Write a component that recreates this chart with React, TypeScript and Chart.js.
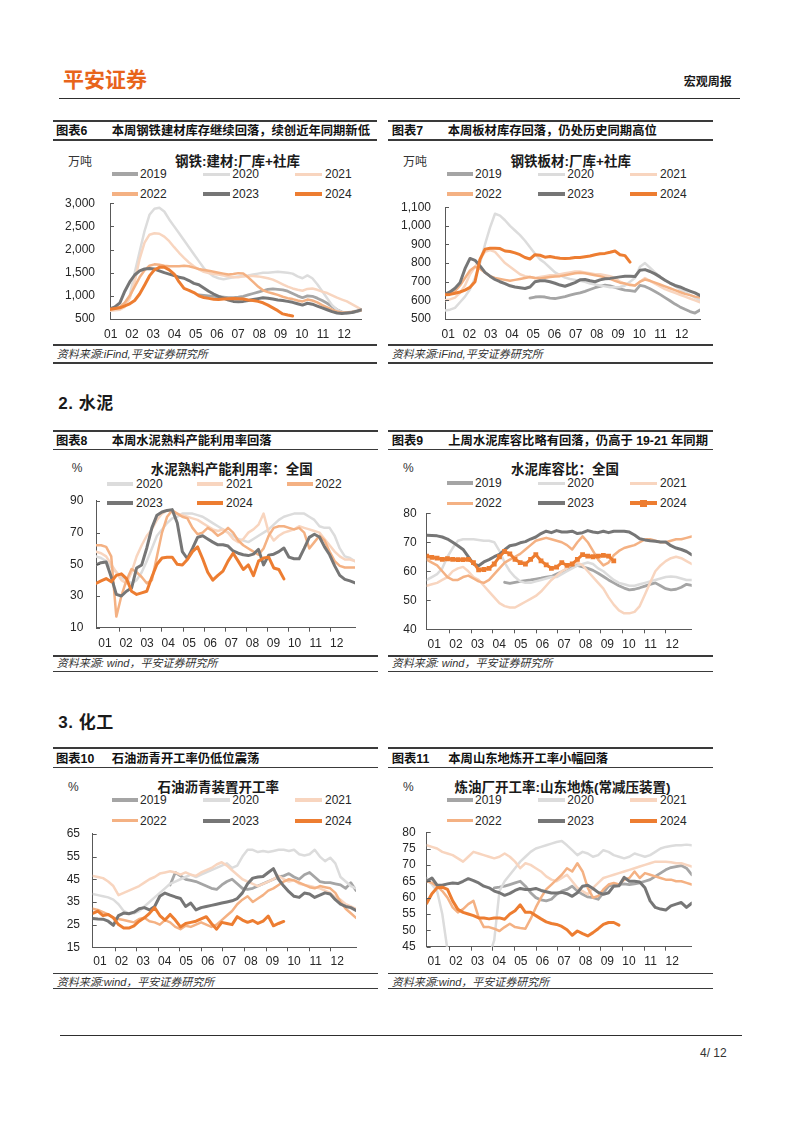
import React, { useEffect, useRef } from 'react';
import { Chart, registerables } from 'chart.js';

Chart.register(...registerables);

const N = null;
const monthLabels = ['01', '02', '03', '04', '05', '06', '07', '08', '09', '10', '11', '12'];

// ===== 图表6 钢铁:建材:厂库+社库 (万吨), weekly =====
const rebarYTicks = [500, 1000, 1500, 2000, 2500, 3000];
const rebar2019 = [N, N, N, N, N, N, N, N, N, N,
  N, N, N, N, N, N, N, N, 1020, 1010,
  1000, 990, 980, 970, 960, 960, 970, 990, 1020, 1050,
  1080, 1110, 1140, 1150, 1140, 1130, 1100, 1050, 1000, 960,
  1000, 990, 950, 900, 840, 770, 700, 650, 630, 640,
  660, 690];
const rebar2020 = [700, 720, 750, 850, 1000, 1500, 1950, 2400, 2750, 2880,
  2900, 2820, 2650, 2500, 2350, 2200, 2050, 1900, 1750, 1600,
  1500, 1420, 1380, 1360, 1380, 1400, 1420, 1430, 1440, 1460,
  1480, 1500, 1500, 1510, 1520, 1510, 1500, 1480, 1420, 1380,
  1440, 1380, 1250, 1100, 950, 800, 700, 650, 640, 660,
  680, 700];
const rebar2021 = [680, 690, 700, 760, 950, 1300, 1800, 2150, 2320, 2350,
  2340, 2280, 2180, 2050, 1930, 1820, 1720, 1640, 1570, 1520,
  1490, 1470, 1460, 1440, 1420, 1400, 1400, 1420, 1430, 1430,
  1420, 1400, 1380, 1350, 1300, 1250, 1200, 1160, 1130, 1110,
  1150, 1160, 1130, 1090, 1060, 1010, 960, 920, 880, 820,
  760, 700];
const rebar2022 = [700, 720, 760, 850, 1000, 1200, 1400, 1550, 1650, 1680,
  1670, 1650, 1640, 1640, 1640, 1650, 1640, 1610, 1580, 1560,
  1540, 1520, 1500, 1480, 1460, 1470, 1490, 1480, 1400, 1300,
  1200, 1120, 1080, 1050, 1020, 980, 950, 930, 900, 880,
  920, 900, 860, 800, 750, 700, 660, 640, 640, 650,
  670, 690];
const rebar2023 = [720, 760, 850, 1100, 1300, 1450, 1540, 1580, 1590, 1580,
  1540, 1500, 1470, 1440, 1400, 1380, 1330, 1270, 1240, 1170,
  1100, 1040, 990, 950, 910, 880, 870, 880, 900, 920,
  940, 960, 950, 930, 910, 900, 880, 860, 830, 800,
  840, 820, 780, 740, 700, 660, 630, 620, 630, 640,
  670, 700];
const rebar2024 = [709, 725, 742, 785, 827, 900, 1040, 1230, 1430, 1560,
  1615, 1620, 1560, 1470, 1300, 1160, 1120, 1070, 1000, 965,
  945, 925, 920, 930, 939, 940, 938, 930, 910, 900,
  880, 850, 800, 740, 680, 610, 585, 565];

// ===== 图表7 钢铁板材:厂库+社库 (万吨) =====
const plateYTicks = [500, 600, 700, 800, 900, 1000, 1100];
const plate2019 = [N, N, N, N, N, N, N, N, N, N,
  N, N, N, N, N, N, N, 612, 618, 620,
  618, 612, 610, 615, 620, 628, 635, 640, 648, 658,
  668, 675, 682, 678, 670, 662, 655, 652, 648, 680,
  675, 662, 648, 632, 615, 598, 580, 565, 552, 540,
  532, 548];
const plate2020 = [545, 550, 560, 590, 620, 660, 720, 800, 900, 990,
  1065, 1055, 1030, 1000, 975, 950, 920, 885, 850, 820,
  800, 775, 750, 735, 722, 715, 710, 705, 700, 690,
  685, 680, 675, 670, 670, 672, 680, 700, 720, 780,
  800, 775, 750, 728, 708, 692, 676, 660, 645, 630,
  615, 600];
const plate2021 = [600, 605, 615, 640, 680, 740, 780, 820, 860, 870,
  860, 830, 800, 780, 760, 740, 730, 725, 720, 725,
  730, 735, 735, 740, 745, 750, 755, 755, 750, 745,
  740, 740, 735, 730, 720, 700, 690, 685, 680, 700,
  720, 705, 690, 675, 660, 650, 640, 630, 620, 610,
  600, 590];
const plate2022 = [630, 635, 650, 680, 720, 760, 780, 770, 750, 730,
  720, 715, 710, 705, 710, 715, 720, 725, 720, 718,
  722, 725, 728, 730, 735, 740, 745, 748, 745, 740,
  735, 730, 722, 715, 705, 695, 690, 682, 680, 700,
  712, 705, 695, 685, 675, 665, 655, 645, 635, 628,
  620, 615];
const plate2023 = [634, 645, 665, 695, 770, 825, 815, 785, 750, 730,
  712, 700, 690, 678, 672, 668, 664, 672, 700, 705,
  705, 700, 692, 682, 676, 685, 695, 710, 712, 705,
  700, 710, 716, 718, 722, 726, 730, 729, 728, 762,
  765, 755, 742, 726, 708, 693, 680, 672, 660, 650,
  640, 626];
const plate2024 = [630, 632, 638, 645, 655, 670, 700, 820, 875, 880,
  880, 878, 865, 862, 855, 845, 830, 822, 845, 842,
  832, 835, 830, 826, 825, 826, 830, 830, 834, 838,
  845, 850, 852, 858, 865, 845, 840, 805];

// ===== 图表8 水泥熟料产能利用率：全国 (%) =====
const clinkerYTicks = [10, 30, 50, 70, 90];
const clinker2020 = [55, 54, 52, 48, 45, 42, 40, 38, 40, 45,
  52, 60, 68, 72, 76, 79, 80, 82, 82, 82,
  81, 80, 78, 76, 74, 72, 70, 68, 66, 65,
  64, 66, 68, 70, 72, 75, 78, 80, 81, 82,
  82, 82, 80, 78, 74, 73, 73, 68, 60, 55,
  54, 52];
const clinker2021 = [58, 57, 55, 50, 45, 40, 38, 45, 55, 62,
  68, 72, 78, 82, 84, 83, 82, 81, 80, 79,
  78, 76, 74, 72, 71, 72, 70, 66, 64, 66,
  70, 72, 75, 82, 70, 65, 68, 70, 71, 72,
  74, 73, 72, 71, 70, 66, 62, 58, 55, 53,
  53, 52];
const clinker2022 = [62, 62, 61, 55, 17, 30, 40, 47, 45, 42,
  38, 40, 55, 70, 80, 84, 82, 80, 79, 73,
  69, 70, 73, 71, 68, 70, 73, 70, 65, 62,
  60, 58, 56, 60, 68, 73, 74, 74, 73, 72,
  73, 70, 60, 64, 68, 65, 58, 52, 49, 48,
  48, 48];
const clinker2023 = [49.6, 51, 51.5, 42, 31, 30, 33, 35, 47.7, 49.6,
  60.3, 73, 81, 83, 84, 84.5, 76, 58, 53.5, 60,
  67, 68, 66, 64, 62.3, 62.3, 61.5, 58.4, 57, 56,
  55.5, 56.4, 59.4, 49.6, 55.8, 56.4, 58, 60.3, 54.5, 53.5,
  53.5, 60, 67, 69, 67.2, 61, 56, 49, 43, 40.5,
  39.5, 38.3];
const clinker2024 = [38, 39.5, 41, 39, 43, 44, 41, 33, 31, 32,
  33, 42, 50, 54, 54.5, 54.5, 50, 49.5, 53, 58,
  61, 53.5, 45, 40, 43, 45.7, 52, 57, 52, 46.7,
  49.6, 42.8, 52, 54, 54.5, 47.7, 46.7, 40.8];

// ===== 图表9 水泥库容比：全国 (%) =====
const invYTicks = [40, 50, 60, 70, 80];
const inv2019 = [N, N, N, N, N, N, N, N, N, N,
  N, N, N, N, N, 56.2, 55.8, 56.2, 56.5, 56.8,
  57, 57.3, 57.6, 58, 58.2, 59, 59.8, 60.9, 61.5, 62,
  61.5, 61, 60.3, 59.3, 58.2, 57, 56, 55, 54.2, 53.6,
  53.8, 54.3, 54.9, 55.5, 56, 55, 54, 53.6, 53.8, 54.5,
  55.5, 55.1];
const inv2020 = [57, 58, 59, 61, 65, 68, 70.5, 71, 71, 71,
  70.8, 70.5, 70.5, 70, 67, 63, 60, 58, 56.5, 56,
  56, 56.5, 57, 57.5, 58, 58, 59, 60, 61, 62,
  62.5, 63, 62.5, 61, 60, 58.5, 57, 56, 55.5, 55,
  55, 55.5, 56, 56.5, 57, 57.5, 58, 58.2, 58, 57.5,
  57, 57];
const inv2021 = [55, 55.5, 56, 57, 58, 60, 61, 61.5, 60, 58,
  57, 55, 53, 51, 49, 48, 47.5, 47.5, 48.5, 49.5,
  50.5, 51.5, 53, 55, 57, 58.5, 60, 61, 62.5, 63,
  62, 60, 58, 56, 54, 51, 48.5, 46.5, 45.5, 45.5,
  46, 48, 52, 56, 60, 62, 63.5, 64.5, 65, 64.5,
  63.5, 62.5];
const inv2022 = [64, 63, 62, 60, 58, 57, 57, 58, 58.5, 57.5,
  56.5, 56, 57, 59, 61, 63, 64, 65, 66, 67.5,
  69, 70.5, 71, 71.5, 71, 70.5, 70, 69, 67.5, 70,
  72, 70, 67, 64, 62, 63, 65.5, 67, 68, 68.5,
  69, 70, 71, 71, 70.5, 70, 70, 70.5, 71, 71,
  71.5, 72];
const inv2023 = [72.4, 72.3, 72.2, 71.8, 71.1, 70, 68.8, 67.5, 65, 62.5,
  61.9, 63.2, 64, 65, 65.8, 67.4, 68.8, 69.1, 69.8, 70.2,
  71.1, 71.8, 73, 73.8, 73.3, 74, 73.5, 73.5, 73.8, 73,
  73.3, 74, 73.5, 73.3, 73.8, 73.3, 73.8, 73.8, 73.8, 73.5,
  72.5, 71.2, 70.8, 70.5, 70.3, 70.1, 70.1, 68.8, 68, 67.5,
  66.8, 65.7];
const inv2024 = [65.2, 64.8, 64.5, 64.1, 64.3, 64.1, 64, 64, 64.1, 63,
  60.5, 60.6, 61, 62.5, 65, 66.8, 66, 64.1, 63, 62.5,
  64.1, 65.7, 63.6, 62.2, 61, 61.4, 63, 62, 62.5, 64.1,
  65.7, 65.2, 65, 65.2, 65.5, 65.2, 63.6];

// ===== 图表10 石油沥青装置开工率 (%) =====
const asphaltYTicks = [15, 25, 35, 45, 55, 65];
const asp2019 = [N, N, N, N, N, N, N, N, N, N,
  N, N, N, N, N, 42.5, 48, 46.5, 45, 44.5,
  44, 43, 42, 41, 40.5, 42.5, 44, 45, 43, 41,
  40.5, 41, 42, 43, 44, 45, 46, 46.5, 47.5, 46,
  45, 47, 48, 46, 44, 43.5, 43.5, 43, 42.5, 41,
  43.5, 40];
const asp2020 = [38.5, 38, 37.5, 37, 36, 34, 31, 30, 30, 31,
  33, 35, 37, 39, 41, 43, 44, 45, 46, 47,
  46, 47, 48, 49, 50, 51, 52, 50, 51, 55,
  58, 58, 57, 57.5, 57, 57.5, 58, 58, 57.5, 58,
  56, 55.5, 56, 58, 55, 53, 54.5, 52, 46, 44,
  42, 41];
const asp2021 = [46.5, 46, 45.5, 44, 42, 38, 39, 40, 41, 42,
  43.5, 45, 46, 47.5, 48, 48.5, 48, 47, 48, 47,
  46.5, 48, 49, 50, 51.5, 52.5, 51, 49, 47, 45,
  44, 43, 42, 43, 44, 45, 46.5, 45, 44, 44.5,
  43, 42.5, 42, 41.5, 41, 40, 39, 37, 36, 34,
  33, 32];
const asp2022 = [32, 31.5, 30.5, 29.5, 28, 27.5, 27, 26.5, 26, 27.5,
  28, 26.5, 26, 25, 27, 26, 24, 23, 24.5, 24,
  25, 26, 25, 24, 25, 27, 29, 31, 34, 36,
  37.5, 35, 36.5, 38, 40, 41, 42.5, 44, 45, 44.5,
  43.5, 42.5, 41.5, 41, 42, 41.5, 41, 39, 35, 32,
  30, 28];
const asp2023 = [27.7, 27.5, 27.4, 26.5, 24.7, 29, 30.1, 29.8, 30.5, 32,
  32.5, 31.5, 33, 37.5, 38.9, 38, 37.2, 36.5, 33, 34.5,
  31.5, 32.5, 33, 33.5, 34, 34.5, 35, 35.5, 36.5, 39,
  43, 45.5, 46, 46.2, 48, 49.7, 45, 42, 39.5, 37.5,
  37, 38.9, 38.5, 37, 38, 39, 38.5, 36, 34, 33,
  32.5, 31.3];
const asp2024 = [30, 31, 29, 29.5, 28, 25, 23.5, 23.5, 24.5, 26.5,
  28, 30, 32.5, 29, 27, 29.5, 27, 24, 25.5, 26,
  26.5, 27.5, 28.5, 25.5, 23, 26, 25.5, 25, 28.5, 27,
  26, 26.8, 25.5, 26.5, 28.8, 24.5, 25.5, 26.4];

// ===== 图表11 炼油厂开工率:山东地炼(常减压装置) (%) =====
const refYTicks = [45, 50, 55, 60, 65, 70, 75, 80];
const ref2019 = [N, N, N, N, N, N, N, N, N, N,
  N, N, N, 63, 63.2, 63.5, 64, 64.5, 65, 63.5,
  61.5, 60, 59.3, 59, 59.5, 61, 62, 62.5, 63.5, 62,
  61, 60.2, 60, 59.5, 61.5, 63.5, 64, 64, 64.2, 64,
  64.2, 64.5, 65, 65.5, 66.5, 67.5, 68.5, 69.2, 69.5, 69.8,
  69, 67];
const ref2020 = [66, 64, 62, 55, 44, 38, 36, 36, 37, 38,
  38, 40, 42, 47, 62, 65, 67, 69, 71, 72.5,
  74, 75, 75.5, 76, 76.5, 77, 77.3, 76, 74.5, 73,
  74, 73.5, 72.5, 73, 74.5, 74, 73, 72.5, 72, 72.5,
  73.5, 73, 72.5, 73, 74, 75, 75.5, 75.8, 76, 76,
  76.2, 76];
const ref2021 = [76, 75.5, 75, 74, 73.5, 73, 72, 71, 72.5, 74,
  73.5, 73, 72.5, 72, 72.5, 73.5, 72.5, 71, 69, 70.5,
  70, 69, 68, 66.5, 65.5, 65, 66, 67, 65, 63,
  62, 61, 63, 64.5, 66, 66.5, 67, 67.5, 68, 68.5,
  69, 69.5, 70, 70.5, 71, 71, 71, 70.8, 70.5, 70.5,
  70, 69.5];
const ref2022 = [65, 64.5, 63.5, 62, 60, 57, 55.5, 56.5, 58, 59,
  54, 51, 51, 50.5, 49.8, 51, 52, 51, 50.7, 50.5,
  53.5, 57, 60, 62.5, 64, 65.5, 67, 69, 68, 70.5,
  68, 63, 60, 60.5, 62.5, 64, 64.5, 64, 65.5, 66,
  68, 66, 67.5, 67, 66.5, 66, 65.5, 65.5, 65, 65,
  64.5, 64];
const ref2023 = [65, 66, 63.8, 63.8, 64.2, 64.5, 64.3, 65, 65.8, 65.2,
  64.5, 63.5, 63, 62, 61.5, 60.7, 61.3, 62.2, 62.8, 62.5,
  62.5, 62.8, 62.2, 61.8, 61.4, 61.4, 61.6, 61.2, 60.4, 61.5,
  63.5, 63.8, 62.8, 61.6, 61, 61.5, 63.5, 63.6, 66.2, 65,
  65, 64.8, 63, 59, 57, 56.5, 56.2, 57.5, 58, 58.5,
  57, 58.3];
const ref2024 = [58.3, 61.2, 63, 63.2, 62.5, 59, 56.4, 55.5, 55, 54.5,
  53.8, 53.8, 53.5, 53.8, 53.8, 53.4, 55, 56, 57.8, 55.5,
  55.5, 54.5, 53.5, 52.6, 52.1, 51.8, 51.2, 50.2, 48.5, 49.8,
  49, 48.3, 49.3, 50.5, 51.8, 52.4, 52.4, 51.6];

// ===== styles =====
const AXIS_COLOR = '#595959';
const TEXT_COLOR = '#262626';
const FONT = '"Liberation Sans", Arial, "Noto Sans CJK SC", sans-serif';

const seriesStyle: any = {
  '2019': { color: '#A5A5A5', width: 2.8, order: 5 },
  '2020': { color: '#DCDCDC', width: 2.5, order: 4 },
  '2021': { color: '#F8D5BF', width: 2.5, order: 3 },
  '2022': { color: '#F4B183', width: 2.5, order: 2 },
  '2023': { color: '#767676', width: 3, order: 1 },
  '2024': { color: '#ED7D31', width: 3, order: 0 },
};

const tickMarks = {
  id: 'tickMarks',
  afterDraw(chart: any, _args: any, opts: any) {
    const { ctx, chartArea: a, scales } = chart;
    ctx.save();
    ctx.strokeStyle = AXIS_COLOR;
    ctx.lineWidth = 1;
    ctx.beginPath();
    (opts.x || []).forEach((v: number) => {
      const px = Math.round(scales.x.getPixelForValue(v)) + 0.5;
      ctx.moveTo(px, a.bottom);
      ctx.lineTo(px, a.bottom + 4);
    });
    (opts.y || []).forEach((v: number) => {
      const py = Math.round(scales.y.getPixelForValue(v)) + 0.5;
      ctx.moveTo(a.left, py);
      ctx.lineTo(a.left + 4, py);
    });
    ctx.stroke();
    ctx.restore();
  },
};

const boundaryMarks = [1.68, 2.68, 3.68, 4.68, 5.68, 6.68, 7.68, 8.68, 9.68, 10.68, 11.68];

const specs: any[] = [
  {
    key: 'rebar', plot: { L: 110, T: 191.7, R: 361.7, B: 319 }, xMin: 0.967, xMax: 12.82,
    yTicks: rebarYTicks, yGap: 15, xPad: 8.8, comma: true, xMarks: [],
    series: [['2019', rebar2019], ['2020', rebar2020], ['2021', rebar2021], ['2022', rebar2022], ['2023', rebar2023], ['2024', rebar2024]],
  },
  {
    key: 'plate', plot: { L: 445, T: 196.7, R: 700, B: 319 }, xMin: 0.845, xMax: 12.86,
    yTicks: plateYTicks, yGap: 14, xPad: 8.8, comma: true, xMarks: [],
    series: [['2019', plate2019], ['2020', plate2020], ['2021', plate2021], ['2022', plate2022], ['2023', plate2023], ['2024', plate2024]],
  },
  {
    key: 'clinker', plot: { L: 96, T: 491, R: 355, B: 627.7 }, xMin: 0.573, xMax: 12.87,
    yTicks: clinkerYTicks, yGap: 12.7, xPad: 8.4, xMarks: boundaryMarks,
    series: [['2020', clinker2020], ['2021', clinker2021], ['2022', clinker2022], ['2023', clinker2023], ['2024', clinker2024]],
  },
  {
    key: 'inv', plot: { L: 426.7, T: 506, R: 691.7, B: 629.3 }, xMin: 0.649, xMax: 12.9,
    yTicks: invYTicks, yGap: 10, xPad: 7.8, xMarks: boundaryMarks, markers: true,
    series: [['2019', inv2019], ['2020', inv2020], ['2021', inv2021], ['2022', inv2022], ['2023', inv2023], ['2024', inv2024]],
  },
  {
    key: 'asphalt', plot: { L: 92.7, T: 824, R: 356, B: 947.3 }, xMin: 0.662, xMax: 12.87,
    yTicks: asphaltYTicks, yGap: 12.7, xPad: 7.2, xMarks: boundaryMarks,
    series: [['2019', asp2019], ['2020', asp2020], ['2021', asp2021], ['2022', asp2022], ['2023', asp2023], ['2024', asp2024]],
  },
  {
    key: 'ref', plot: { L: 426.7, T: 824, R: 691.7, B: 946.7 }, xMin: 0.649, xMax: 12.9,
    yTicks: refYTicks, yGap: 11, xPad: 7.8, xMarks: boundaryMarks,
    series: [['2019', ref2019], ['2020', ref2020], ['2021', ref2021], ['2022', ref2022], ['2023', ref2023], ['2024', ref2024]],
  },
];

function LineChart({ spec }: any) {
  const ref = useRef<HTMLCanvasElement>(null);
  const { L, T, R, B } = spec.plot;
  const left = Math.floor(L) - 56;
  const top = Math.floor(T) - 10;
  const width = Math.ceil(R) + 6 - left;
  const height = Math.ceil(B) + 26 - top;
  const yw = L - left;
  const pt = T - top;
  const pr = left + width - R;
  const xh = top + height - B;

  useEffect(() => {
    const n = 52;
    const step = (spec.xMax - spec.xMin) / (n - 1);
    const datasets = spec.series.map(([label, values]: any) => {
      const st = seriesStyle[label];
      const marker = spec.markers && label === '2024';
      return {
        label,
        data: values
          .map((v: any, i: number) => ({ x: spec.xMin + i * step, y: v }))
          .filter((p: any) => p.y !== null),
        borderColor: st.color,
        backgroundColor: st.color,
        borderWidth: st.width,
        pointRadius: marker ? 3.4 : 0,
        pointStyle: 'rect',
        pointBorderWidth: 0,
        pointBackgroundColor: st.color,
        order: st.order,
        tension: 0,
        fill: false,
        borderJoinStyle: 'round',
        borderCapStyle: 'round',
      };
    });
    const tickFont = { family: FONT, size: 12 };
    const chart = new Chart(ref.current as HTMLCanvasElement, {
      type: 'line',
      data: { datasets },
      options: {
        animation: false,
        responsive: false,
        maintainAspectRatio: false,
        devicePixelRatio: 1,
        layout: { padding: { left: 0, top: pt, right: pr, bottom: 0 } },
        plugins: {
          legend: { display: false },
          title: { display: false },
          tooltip: { enabled: false },
          tickMarks: { x: spec.xMarks, y: spec.yTicks },
        },
        scales: {
          x: {
            type: 'linear',
            min: spec.xMin,
            max: spec.xMax,
            afterBuildTicks: (a: any) => {
              a.ticks = monthLabels.map((_, i) => ({ value: i + 1 }));
            },
            afterFit: (a: any) => {
              a.height = xh;
            },
            ticks: {
              autoSkip: false,
              maxRotation: 0,
              minRotation: 0,
              padding: spec.xPad,
              color: TEXT_COLOR,
              font: tickFont,
              callback: (v: any) => monthLabels[Math.round(Number(v)) - 1],
            },
            grid: { display: false, drawTicks: false },
            border: { display: true, color: AXIS_COLOR, width: 1 },
          },
          y: {
            type: 'linear',
            min: spec.yTicks[0],
            max: spec.yTicks[spec.yTicks.length - 1],
            afterBuildTicks: (a: any) => {
              a.ticks = spec.yTicks.map((v: number) => ({ value: v }));
            },
            afterFit: (a: any) => {
              a.width = yw;
            },
            ticks: {
              autoSkip: false,
              padding: spec.yGap,
              color: TEXT_COLOR,
              font: tickFont,
              callback: (v: any) => (spec.comma ? Number(v).toLocaleString('en-US') : String(v)),
            },
            grid: { display: false, drawTicks: false },
            border: { display: true, color: AXIS_COLOR, width: 1 },
          },
        },
      } as any,
      plugins: [tickMarks as any],
    });
    return () => chart.destroy();
  }, []);

  return (
    <canvas
      ref={ref}
      width={width}
      height={height}
      style={{ position: 'absolute', left, top, width, height }}
    />
  );
}

function Txt({ x, cy, size = 12, bold = false, italic = false, color = TEXT_COLOR, align = 'left', children, ls = 0 }: any) {
  const style: any = {
    position: 'absolute',
    top: cy - size * 0.6,
    fontSize: size,
    lineHeight: `${size * 1.2}px`,
    fontWeight: bold ? 'bold' : 'normal',
    fontStyle: italic ? 'italic' : 'normal',
    color,
    fontFamily: FONT,
    whiteSpace: 'nowrap',
    letterSpacing: ls,
  };
  if (align === 'left') style.left = x;
  else if (align === 'right') style.right = 802 - x;
  else {
    style.left = x;
    style.transform = 'translateX(-50%)';
  }
  return <div style={style}>{children}</div>;
}

function Rule({ x0, x1, y, h = 1.5, color = '#3a3a3a' }: any) {
  return <div style={{ position: 'absolute', left: x0, top: y - h / 2, width: x1 - x0, height: h, background: color }} />;
}

function LegendItem({ lineX, textX, cy, year, marker = false, lineW = 26.7 }: any) {
  const st = seriesStyle[year];
  const h = year === '2020' || year === '2021' || year === '2022' ? 3.2 : 3.8;
  return (
    <>
      <div style={{ position: 'absolute', left: lineX, top: cy - h / 2, width: lineW, height: h, background: st.color }} />
      {marker && (
        <div style={{ position: 'absolute', left: lineX + lineW / 2 - 3.5, top: cy - 3.5, width: 7, height: 7, background: st.color }} />
      )}
      <Txt x={textX} cy={cy}>{year}</Txt>
    </>
  );
}

function Legend6({ ox, y1, y2, marker2024 = false }: any) {
  const cols = [
    { l: ox + 61.7, t: ox + 90 },
    { l: ox + 153.3, t: ox + 182.3 },
    { l: ox + 245, t: ox + 275 },
  ];
  const years = ['2019', '2020', '2021', '2022', '2023', '2024'];
  return (
    <>
      {years.map((yr, i) => (
        <LegendItem key={yr} year={yr} lineX={cols[i % 3].l} textX={cols[i % 3].t} cy={i < 3 ? y1 : y2} marker={marker2024 && yr === '2024'} />
      ))}
    </>
  );
}

function Legend5({ ox, y1, y2 }: any) {
  const cols = [
    { l: ox + 56.7, t: ox + 86 },
    { l: ox + 146.7, t: ox + 176 },
    { l: ox + 236.7, t: ox + 265 },
  ];
  const years = ['2020', '2021', '2022', '2023', '2024'];
  return (
    <>
      {years.map((yr, i) => (
        <LegendItem key={yr} year={yr} lineX={cols[i % 3].l} textX={cols[i % 3].t} cy={i < 3 ? y1 : y2} />
      ))}
    </>
  );
}

const blocks = [
  { x0: 52.7, x1: 377, top: 121, under: 140, titleY: 131.7, num: '图表6', numX: 56, text: '本周钢铁建材库存继续回落，续创近年同期新低', textX: 111.7, srcLine: 345, srcY: 354.3, bottom: 363, src: '资料来源:iFind,平安证券研究所', srcX: 56.7 },
  { x0: 387.7, x1: 713, top: 121, under: 140, titleY: 131.7, num: '图表7', numX: 391.7, text: '本周板材库存回落，仍处历史同期高位', textX: 447.7, srcLine: 345, srcY: 354.3, bottom: 363, src: '资料来源:iFind,平安证券研究所', srcX: 391.7 },
  { x0: 52.7, x1: 378, top: 430.7, under: 449.3, titleY: 441.7, num: '图表8', numX: 56, text: '本周水泥熟料产能利用率回落', textX: 111.7, srcLine: 656, srcY: 664, bottom: 671.7, src: '资料来源: wind，平安证券研究所', srcX: 56.7 },
  { x0: 387.7, x1: 713, top: 430.7, under: 449.3, titleY: 441.7, num: '图表9', numX: 391.7, text: '上周水泥库容比略有回落，仍高于 19-21 年同期', textX: 448.3, srcLine: 656, srcY: 664, bottom: 671.7, src: '资料来源: wind，平安证券研究所', srcX: 391.7 },
  { x0: 52.7, x1: 378, top: 748.3, under: 767.3, titleY: 759, num: '图表10', numX: 56, text: '石油沥青开工率仍低位震荡', textX: 111.7, srcLine: 973.3, srcY: 982.7, bottom: 988.3, src: '资料来源:wind，平安证券研究所', srcX: 56.7 },
  { x0: 387.7, x1: 713, top: 748.3, under: 767.3, titleY: 759, num: '图表11', numX: 391.7, text: '本周山东地炼开工率小幅回落', textX: 448.3, srcLine: 973.3, srcY: 982.7, bottom: 988.3, src: '资料来源:wind，平安证券研究所', srcX: 391.7 },
];

export default function App() {
  return (
    <div style={{ position: 'absolute', left: 0, top: 0, width: 802, height: 1133, background: '#fff', overflow: 'hidden' }}>
      {/* header */}
      <Txt x={63} cy={80} size={21} bold color="#E8641B">平安证券</Txt>
      <Txt x={731.7} cy={82.5} size={12} bold align="right" color="#1a1a1a">宏观周报</Txt>
      <Rule x0={59} x1={740} y={98.3} h={1.5} color="#2e2e2e" />

      {/* section headings */}
      <Txt x={58.3} cy={404.3} size={17} bold color="#1a1a1a" ls={0.5}>2. 水泥</Txt>
      <Txt x={58.3} cy={723.3} size={17} bold color="#1a1a1a" ls={0.5}>3. 化工</Txt>

      {blocks.map((b) => (
        <React.Fragment key={b.num}>
          <Rule x0={b.x0} x1={b.x1} y={b.top} h={1.8} />
          <Txt x={b.numX} cy={b.titleY} size={12.3} bold color="#111">{b.num}</Txt>
          <Txt x={b.textX} cy={b.titleY} size={12.3} bold color="#111">{b.text}</Txt>
          <Rule x0={b.x0} x1={b.x1} y={b.under} h={1.5} />
          <Rule x0={b.x0} x1={b.x1} y={b.srcLine} h={1.6} />
          <Txt x={b.srcX} cy={b.srcY} size={11} italic color="#333">{b.src}</Txt>
          <Rule x0={b.x0} x1={b.x1} y={b.bottom} h={1.3} />
        </React.Fragment>
      ))}

      {/* chart titles & units */}
      <Txt x={68} cy={161.7} size={12} color="#333">万吨</Txt>
      <Txt x={237.5} cy={161.7} size={13.5} bold align="center" color="#1a1a1a">钢铁:建材:厂库+社库</Txt>
      <Txt x={403} cy={161.7} size={12} color="#333">万吨</Txt>
      <Txt x={570.8} cy={161.7} size={13.5} bold align="center" color="#1a1a1a">钢铁板材:厂库+社库</Txt>
      <Txt x={71.7} cy={468.3} size={12} color="#333">%</Txt>
      <Txt x={231.7} cy={470} size={13.5} bold align="center" color="#1a1a1a">水泥熟料产能利用率：全国</Txt>
      <Txt x={403} cy={468.3} size={12} color="#333">%</Txt>
      <Txt x={565} cy={470} size={13.5} bold align="center" color="#1a1a1a">水泥库容比：全国</Txt>
      <Txt x={68} cy={786.7} size={12} color="#333">%</Txt>
      <Txt x={218.3} cy={788.3} size={13.5} bold align="center" color="#1a1a1a">石油沥青装置开工率</Txt>
      <Txt x={403} cy={786.7} size={12} color="#333">%</Txt>
      <Txt x={562.5} cy={788.3} size={13.5} bold align="center" color="#1a1a1a">炼油厂开工率:山东地炼(常减压装置)</Txt>

      {/* legends */}
      <Legend6 ox={50} y1={174.3} y2={194} />
      <Legend6 ox={385} y1={174.3} y2={194} />
      <Legend5 ox={50} y1={484} y2={503.3} />
      <Legend6 ox={385} y1={483.3} y2={503.3} marker2024 />
      <Legend6 ox={50} y1={800} y2={820.7} />
      <Legend6 ox={385} y1={800} y2={820.7} />

      {specs.map((s) => (
        <LineChart key={s.key} spec={s} />
      ))}

      {/* footer */}
      <Rule x0={60} x1={741.7} y={1035.7} h={1.5} color="#2e2e2e" />
      <Txt x={700} cy={1053.3} size={12} color="#333">4/ 12</Txt>
    </div>
  );
}
